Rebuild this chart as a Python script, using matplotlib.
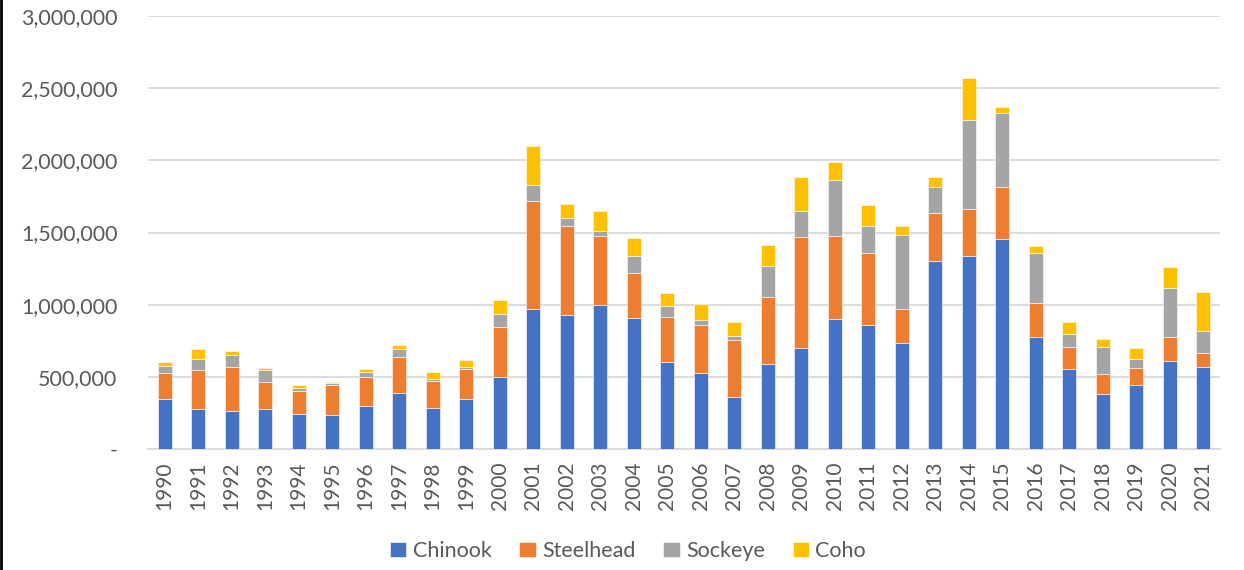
import matplotlib
matplotlib.use("Agg")
import matplotlib.pyplot as plt
from matplotlib.lines import Line2D
from matplotlib.ticker import FuncFormatter
import numpy as np

years = [str(y) for y in range(1990, 2022)]
chinook = [344, 275, 261, 277, 245, 238, 298, 386, 282, 344, 497, 972, 926, 996, 906, 601,
           527, 358, 589, 700, 903, 861, 735, 1301, 1340, 1453, 774, 555, 379, 441, 610, 570]
steelhead = [181, 275, 309, 189, 159, 208, 203, 254, 189, 208, 346, 744, 621, 478, 314, 316,
             330, 400, 462, 771, 572, 497, 235, 332, 325, 365, 240, 154, 139, 118, 164, 97]
sockeye = [52, 76, 83, 79, 16, 9, 30, 51, 12, 16, 95, 116, 52, 39, 120, 72,
           39, 27, 215, 180, 387, 185, 515, 185, 613, 508, 344, 90, 191, 63, 340, 153]
coho = [24, 67, 24, 16, 23, 9, 21, 28, 48, 47, 96, 268, 97, 136, 122, 90,
        109, 93, 148, 234, 126, 148, 60, 65, 295, 42, 47, 79, 53, 78, 147, 266]

series = [("Chinook", chinook, "#4472C4"),
          ("Steelhead", steelhead, "#ED7D31"),
          ("Sockeye", sockeye, "#A5A5A5"),
          ("Coho", coho, "#FFC000")]

plt.rcParams['font.family'] = ['Lato', 'DejaVu Sans']

fig = plt.figure(figsize=(12.44, 5.70), dpi=100)
ax = fig.add_axes([148/1244, 1 - 449/570, (1220-148)/1244, (449-16)/570])

x = np.arange(len(years))
bottom = np.zeros(len(years))
for name, vals, col in series:
    v = np.array(vals) * 1000.0
    ax.bar(x, v, 0.42, bottom=bottom, color=col, label=name,
           edgecolor='white', linewidth=0.4, zorder=3)
    bottom += v

ax.set_xlim(-0.5, len(years) - 0.5)
ax.set_ylim(0, 3000000)
ax.set_yticks(np.arange(0, 3000001, 500000))
ax.yaxis.set_major_formatter(FuncFormatter(lambda v, p: "-" if v == 0 else f"{int(v):,}"))
ax.set_xticks(x)
ax.set_xticklabels(years, rotation=90)
ax.grid(axis='y', color='#d9d9d9', linewidth=1.3, zorder=0)
for s in ['top', 'right', 'left']:
    ax.spines[s].set_visible(False)
ax.spines['bottom'].set_color('#d9d9d9')
ax.spines['bottom'].set_linewidth(1.3)
ax.tick_params(axis='y', length=0, pad=22, labelsize=15.5, labelcolor='#595959')
ax.tick_params(axis='x', length=0, pad=9, labelsize=15, labelcolor='#595959')

leg = fig.legend(loc='center', bbox_to_anchor=(628/1244, 1 - 551/570), ncol=4,
                 frameon=False, fontsize=15.5, handlelength=0.75, handleheight=0.75,
                 handletextpad=0.3, columnspacing=1.3)
for t in leg.get_texts():
    t.set_color('#595959')

fig.add_artist(Line2D([0.001, 0.001], [0, 1], color='black', lw=2, transform=fig.transFigure))

fig.savefig("out.png", dpi=100, facecolor='white')
